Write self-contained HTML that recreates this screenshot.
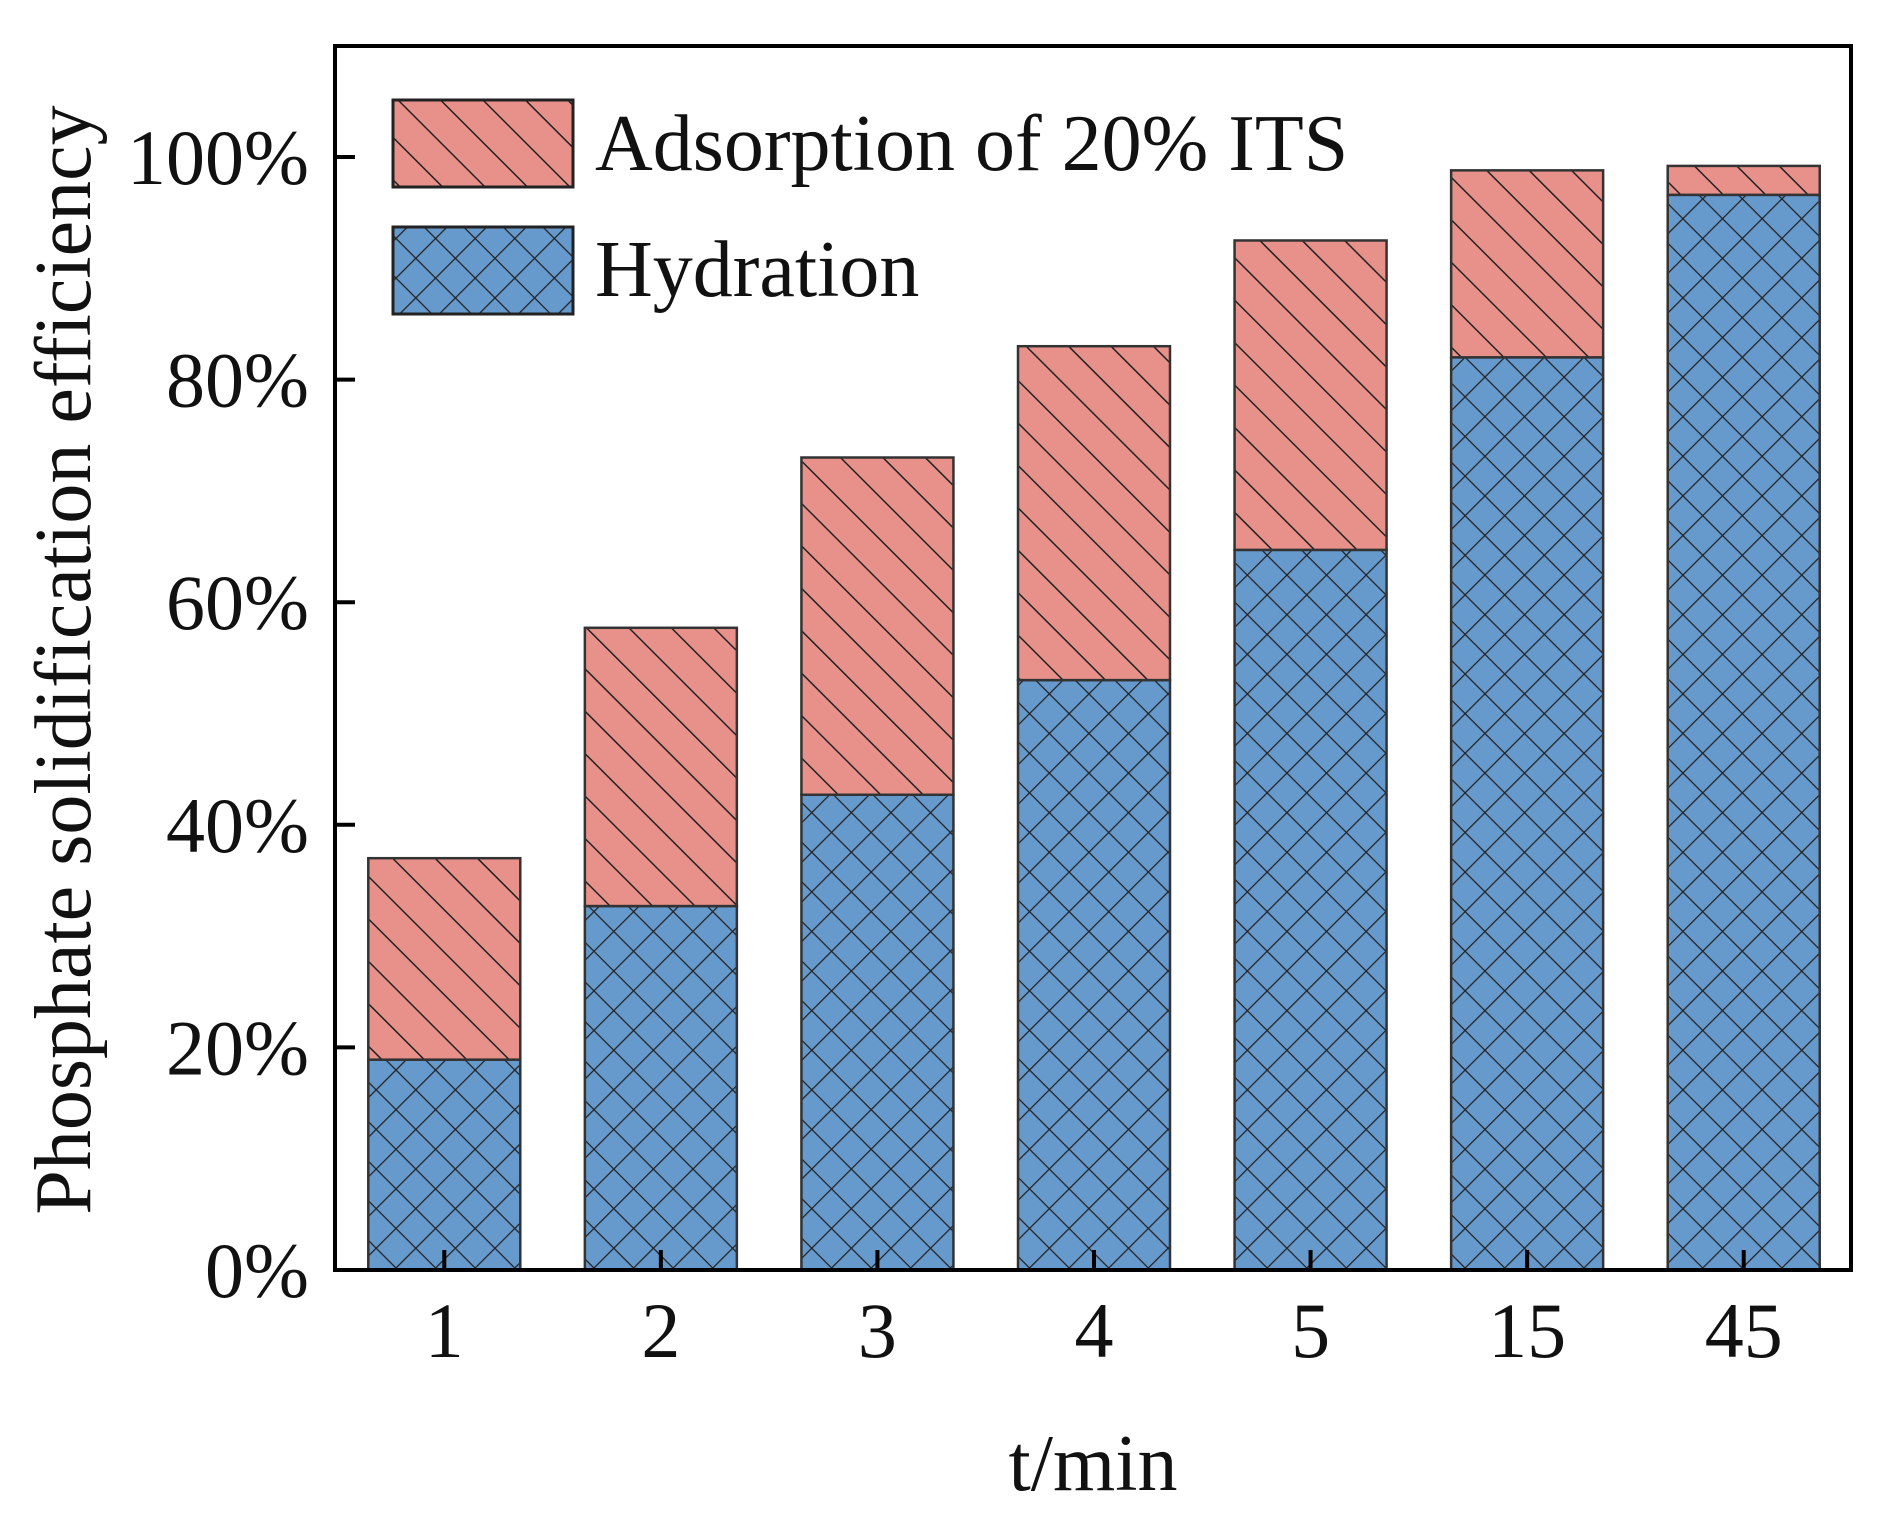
<!DOCTYPE html>
<html><head><meta charset="utf-8"><style>
html,body{margin:0;padding:0;background:#fff}
svg{display:block}
text{font-family:"Liberation Serif",serif;fill:#111}
</style></head><body>
<svg id="chart" width="1888" height="1521" viewBox="0 0 1888 1521" xmlns="http://www.w3.org/2000/svg">
<defs>
<pattern id="diag" patternUnits="userSpaceOnUse" width="30" height="30" patternTransform="rotate(-45)">
<rect width="30" height="30" fill="#e8918a"/><line x1="0" y1="0" x2="0" y2="30" stroke="#222" stroke-width="3"/>
</pattern>
<pattern id="cross" patternUnits="userSpaceOnUse" width="28" height="28" patternTransform="rotate(45)">
<rect width="28" height="28" fill="#6699cc"/><line x1="0" y1="0" x2="0" y2="28" stroke="#222" stroke-width="2.5"/><line x1="0" y1="0" x2="28" y2="0" stroke="#222" stroke-width="2.5"/>
</pattern>
</defs>
<g id="bars"></g>
<rect x="335" y="46" width="1516" height="1224" fill="none" stroke="#000" stroke-width="4"/>
<g id="axes"></g>
<g>
<rect x="393" y="100" width="180" height="87" fill="url(#diag)" stroke="#222" stroke-width="3"/>
<text x="595" y="170" font-size="80">Adsorption of 20% ITS</text>
<rect x="393" y="227" width="180" height="87" fill="url(#cross)" stroke="#222" stroke-width="3"/>
<text x="595" y="296" font-size="80">Hydration</text>
</g>
<text x="1093" y="1490" font-size="80" text-anchor="middle">t/min</text>
<text transform="translate(90,660) rotate(-90)" font-size="80" text-anchor="middle">Phosphate solidification efficiency</text>
</svg>
<script>
const categories = ["1","2","3","4","5","15","45"];
const hydration = [18.9, 32.7, 42.7, 53, 64.7, 82, 96.6];
const totals = [37, 57.7, 73, 83, 92.5, 98.8, 99.2];
const yTicks = [0, 20, 40, 60, 80, 100];
const NS = "http://www.w3.org/2000/svg";
const x0 = 335, x1 = 1851, y0 = 1270, y100 = 157;
const yScale = v => y0 - (y0 - y100) * v / 100;
const band = (x1 - x0) / categories.length;
const xCenter = i => x0 + band * (i + 0.5) + 1;
const bw = 152;
const bars = document.getElementById('bars');
const axes = document.getElementById('axes');
function mk(tag, attrs, parent) { const e = document.createElementNS(NS, tag); for (const k in attrs) e.setAttribute(k, attrs[k]); parent.appendChild(e); return e; }
categories.forEach((c, i) => {
  const cx = xCenter(i);
  const h = mk('rect', {x: cx - bw/2, y: yScale(hydration[i]), width: bw, height: yScale(0) - yScale(hydration[i]), fill: 'url(#cross)', stroke: '#333', 'stroke-width': 2.5}, bars);
  
  
  const a = mk('rect', {x: cx - bw/2, y: yScale(totals[i]), width: bw, height: yScale(hydration[i]) - yScale(totals[i]), fill: 'url(#diag)', stroke: '#333', 'stroke-width': 2.5}, bars);
  
  
  const t = mk('line', {x1: cx, x2: cx, y1: y0, y2: y0 - 20, stroke: '#000', 'stroke-width': 4}, axes);
  
  
  const l = mk('text', {x: cx, y: 1357, 'font-size': 78, 'text-anchor': 'middle'}, axes);
  l.textContent = c;
  
  
});
yTicks.forEach(v => {
  const y = yScale(v);
  const t = mk('line', {x1: x0, x2: x0 + 20, y1: y, y2: y, stroke: '#000', 'stroke-width': 4}, axes);
  
  
  const l = mk('text', {x: 309, y: y + 27, 'font-size': 78, 'text-anchor': 'end'}, axes);
  l.textContent = v + '%';
  
  
});
</script>
</body></html>
